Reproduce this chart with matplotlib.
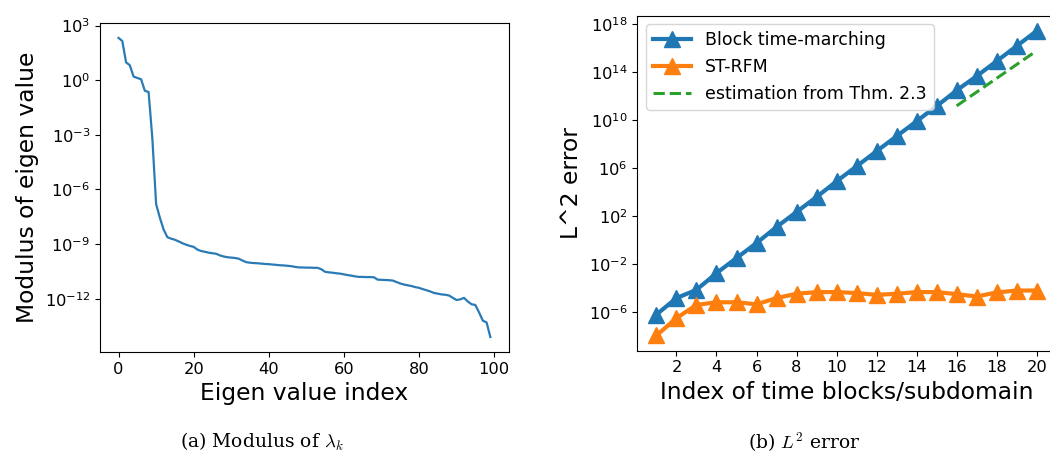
import numpy as np
import matplotlib
matplotlib.use("Agg")
import matplotlib.pyplot as plt
from matplotlib.ticker import NullLocator, FixedLocator

plt.rcParams['mathtext.fontset'] = 'cm'

# ---- data: left panel (log10 of eigenvalue modulus, index 0..99) ----
eig_index = list(range(100))
eig_log10 = [
    2.32, 2.15, 0.98, 0.82, 0.20, 0.12, 0.05, -0.58, -0.65, -3.20,
    -6.80, -7.55, -8.20, -8.62, -8.70, -8.76, -8.85, -8.95, -9.03, -9.10,
    -9.15, -9.30, -9.38, -9.42, -9.47, -9.50, -9.53, -9.62, -9.68, -9.72,
    -9.74, -9.76, -9.80, -9.90, -9.99, -10.02, -10.04, -10.05, -10.07, -10.09,
    -10.10, -10.12, -10.14, -10.16, -10.17, -10.19, -10.21, -10.25, -10.28, -10.28,
    -10.29, -10.29, -10.30, -10.30, -10.38, -10.52, -10.55, -10.57, -10.60, -10.62,
    -10.66, -10.70, -10.73, -10.77, -10.80, -10.80, -10.81, -10.81, -10.82, -10.95,
    -10.96, -10.97, -10.98, -11.00, -11.08, -11.16, -11.22, -11.26, -11.30, -11.36,
    -11.40, -11.47, -11.53, -11.60, -11.68, -11.72, -11.76, -11.78, -11.82, -11.95,
    -12.07, -12.03, -11.95, -12.15, -12.30, -12.34, -12.75, -13.20, -13.30, -14.10,
]

# ---- data: right panel (log10 of L2 error) ----
blocks = list(range(1, 21))
block_tm_log10 = [-6.2, -4.83, -4.14, -2.75, -1.49, -0.24, 1.10, 2.35, 3.60, 4.91,
                  6.16, 7.42, 8.67, 9.92, 11.18, 12.49, 13.68, 14.93, 16.19, 17.45]
st_rfm_log10 = [-7.95, -6.50, -5.40, -5.18, -5.18, -5.35, -4.83, -4.47, -4.33, -4.33,
                -4.41, -4.56, -4.47, -4.33, -4.33, -4.50, -4.70, -4.36, -4.20, -4.20]
est_blocks = [16, 17, 18, 19, 20]
est_log10 = [11.2, 12.35, 13.5, 14.65, 15.8]

left_yticks = [3, 0, -3, -6, -9, -12]
right_yticks = [-6, -2, 2, 6, 10, 14, 18]
right_xticks = [2, 4, 6, 8, 10, 12, 14, 16, 18, 20]

fig = plt.figure(figsize=(10.5, 4.53), dpi=100)

# ---- left panel ----
ax1 = fig.add_axes([0.0952, 0.2230, 0.3895, 0.7263])
ax1.plot(eig_index, 10.0 ** np.array(eig_log10), color='#2a7ab5', lw=1.6)
ax1.set_yscale('log')
ax1.yaxis.set_major_locator(FixedLocator([10.0 ** k for k in left_yticks]))
ax1.yaxis.set_minor_locator(NullLocator())
ax1.set_xticks([0, 20, 40, 60, 80, 100])
ax1.tick_params(labelsize=11.7)
ax1.set_xlabel('Eigen value index', fontsize=16.8, labelpad=4)
ax1.set_ylabel('Modulus of eigen value', fontsize=16.8, labelpad=4)

# ---- right panel ----
ax2 = fig.add_axes([0.6071, 0.2258, 0.3983, 0.7395])
ax2.plot(blocks, 10.0 ** np.array(block_tm_log10), color='#1f77b4', lw=3,
         marker='^', ms=12, label='Block time-marching')
ax2.plot(blocks, 10.0 ** np.array(st_rfm_log10), color='#ff7f0e', lw=3,
         marker='^', ms=12, label='ST-RFM')
ax2.plot(est_blocks, 10.0 ** np.array(est_log10), color='#2ca02c', lw=2.2,
         ls='--', label='estimation from Thm. 2.3')
ax2.set_yscale('log')
ax2.yaxis.set_major_locator(FixedLocator([10.0 ** k for k in right_yticks]))
ax2.yaxis.set_minor_locator(NullLocator())
ax2.set_xticks(right_xticks)
ax2.tick_params(labelsize=11.7)
ax2.set_xlabel('Index of time blocks/subdomain', fontsize=16.8, labelpad=4)
ax2.set_ylabel('L^2 error', fontsize=16.8, labelpad=4)
ax2.legend(loc='upper left', fontsize=12.5, handlelength=2.2)

# ---- captions ----
fig.text(262 / 1050, 1 - 442 / 453, r'(a) Modulus of $\lambda_k$', ha='center',
         va='center', fontsize=13.5, family='DejaVu Serif')
fig.text(804 / 1050, 1 - 442 / 453, r'(b) $L^2$ error', ha='center',
         va='center', fontsize=13.5, family='DejaVu Serif')

fig.savefig('out.png', dpi=100)
